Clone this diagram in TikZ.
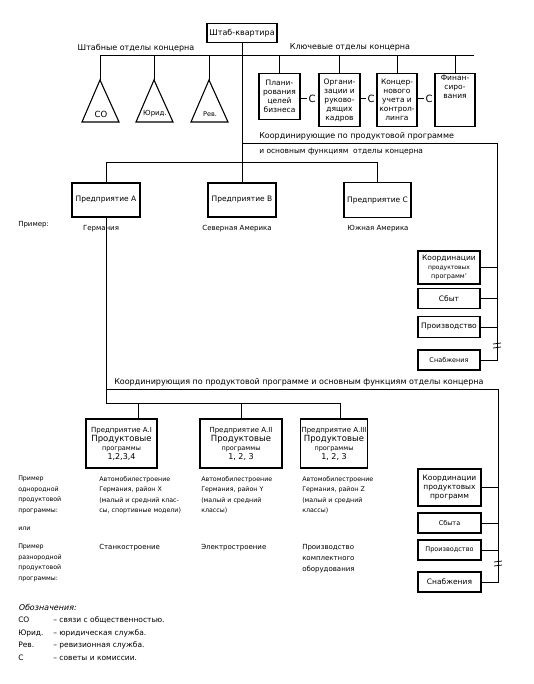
\documentclass[tikz,border=0pt]{standalone}
\usepackage{fontspec}
\setmainfont{DejaVu Sans}
\newfontfamily\slantfont{DejaVu Sans}[FakeSlant=0.2]
\usetikzlibrary{calc}
\tikzset{every picture/.style={line width=1pt}}
\tikzset{
  box/.style={draw, line width=1.1pt, inner sep=0.75pt, align=center, font=\fontsize{7.5}{9}\selectfont},
  kbox/.style={box, minimum width=41, anchor=north},
  rbox/.style={box, minimum width=62},
  lbl/.style={inner sep=0.75pt, align=left, font=\fontsize{7}{8.5}\selectfont},
  head/.style={inner sep=0.75pt, font=\fontsize{8}{9}\selectfont},
  note/.style={inner sep=0.75pt, align=left, anchor=north west, font=\fontsize{6.3}{10.5}\selectfont},
}

\begin{document}
\begin{tikzpicture}[x=1pt,y=1pt,yscale=-1,xscale=1]
    \useasboundingbox (0,0) rectangle (533,684);

    %Shape: Rectangle [id:hq]
    \node[box, font=\fontsize{8}{9}\selectfont, minimum width=70, minimum height=19] (hq) at (242,33) {Штаб-квартира};
    % Text Node
    \node[head] (staff) at (136,48) {Штабные отделы концерна};
    % Text Node
    \node[head] (key) at (350,47) {Ключевые отделы концерна};

    %Shape: Triangle
    \foreach \x/\t/\n/\s in {100/СО/co/8.5, 154/Юрид./jur/7, 209/Рев./rev/6.5}{
      \coordinate (\n) at (\x,80);
      \draw[line width=1.1pt] (\n) -- ++(-18,42) -- ++(37,0) -- cycle;
      \node[lbl, font=\fontsize{\s}{9}\selectfont] (\n-t) at (\x+1,114) {\t};
    }

    %Shape: Rectangle [id:kb]
    \node[kbox, minimum height=46] (kb1) at (279.5,73) {Плани-\\рования\\целей\\бизнеса};
    \node[kbox, minimum height=53] (kb2) at (339.5,73) {Органи-\\зации и\\руково-\\дящих\\кадров};
    \node[kbox, minimum height=53, minimum width=40] (kb3) at (397,73) {Концер-\\нового\\учета и\\контрол-\\линга};
    \node[kbox, minimum height=53, minimum width=40] (kb4) at (455,73) {};
    \node[lbl, align=center, anchor=north, font=\fontsize{7.5}{9}\selectfont] (kb4-t) at (455,74) {Финан-\\сиро-\\вания};

    % Text Node
    \node[lbl, font=\fontsize{10}{10}\selectfont] (c1) at (312,99) {С};
    \node[lbl, font=\fontsize{10}{10}\selectfont] (c2) at (371,99) {С};
    \node[lbl, font=\fontsize{10}{10}\selectfont] (c3) at (429,99) {С};
    \draw (c1.west -| kb1.east) -- (c1.west);
    \draw (c2.west -| kb2.east) -- (c2.west);
    \draw (c3.west -| kb3.east) -- (c3.west);

    %Straight Lines
    \coordinate (busR) at (474,56);
    \draw (co) -- (co |- busR) -- (busR);
    \foreach \n in {jur,rev}{ \draw (\n) -- (\n |- busR); }
    \foreach \n in {kb1,kb2,kb3,kb4}{ \draw (\n.north) -- (\n.north |- busR); }

    % Text Node
    \node[head, anchor=west] (coord1a) at (258,136) {Координирующие по продуктовой программе};
    % Text Node
    \node[head, anchor=west, font=\fontsize{7.5}{9}\selectfont] (coord1b) at (258,152) {и основным функциям~~отделы концерна};

    %Shape: Rectangle [id:ent]
    \node[box, minimum width=68, minimum height=34] (entA) at (106,200) {Предприятие А};
    \node[box, minimum width=68, minimum height=34] (entB) at (242,200) {Предприятие В};
    \node[box, minimum width=67, minimum height=35] (entC) at (377.5,200) {Предприятие С};

    % Text Node
    \node[lbl, anchor=west] (ex0) at (17,225) {Пример:};
    \node[lbl] (regA) at (101,229) {Германия};
    \node[lbl] (regB) at (237,229) {Северная Америка};
    \node[lbl] (regC) at (378,229) {Южная Америка};

    %Shape: Rectangle [id:rk]
    \node[rbox, minimum height=33] (rk1) at (449,267.5) {Координации\\{\fontsize{6}{8}\selectfont продуктовых}\\{\fontsize{6.5}{8}\selectfont программ'}};
    \node[rbox, minimum height=20] (rk2) at (449,298.5) {Сбыт};
    \node[rbox, minimum height=21] (rk3) at (449,327) {Производство};
    \node[rbox, minimum height=20, font=\fontsize{6.5}{8}\selectfont] (rk4) at (449,360) {Снабжения};

    %Straight Lines
    \coordinate (r1) at (497,144);
    \draw (hq.south) -- (hq.south |- entB.north);
    \draw (hq.south |- r1) -- (r1) -- (r1 |- rk4.east) -- (rk4.east);
    \foreach \n in {rk1,rk2,rk3}{ \draw (\n.east) -- (\n.east -| r1); }
    \draw[line width=0.75pt] (493,344) -- (501,343) (493,348) -- (501,347);
    \coordinate (b2) at (0,163);
    \draw (entA.north) |- (b2 -| entC.north) -- (entC.north);

    % Text Node
    \node[head, anchor=west] (coord2) at (113,382) {Координирующия по продуктовой программе и основным функциям отделы концерна};

    %Shape: Rectangle [id:sA]
    \node[box, minimum width=71, minimum height=49] (sA1) at (121.5,443.5) {\fontsize{7}{9}\selectfont Предприятие А.I\\\fontsize{8.5}{9}\selectfont Продуктовые\\\fontsize{6.5}{11}\selectfont программы\\\fontsize{8}{9}\selectfont 1,2,3,4};
    \node[box, minimum width=82, minimum height=49] (sA2) at (241,443.5) {\fontsize{7}{9}\selectfont Предприятие А.II\\\fontsize{8.5}{9}\selectfont Продуктовые\\\fontsize{6.5}{11}\selectfont программы\\\fontsize{8}{9}\selectfont 1, 2, 3};
    \node[box, minimum width=66, minimum height=49] (sA3) at (334,443.5) {\fontsize{7}{9}\selectfont Предприятие А.III\\\fontsize{8.5}{9}\selectfont Продуктовые\\\fontsize{6.5}{11}\selectfont программы\\\fontsize{8}{9}\selectfont 1, 2, 3};

    %Shape: Rectangle [id:sk]
    \node[rbox, minimum width=63, minimum height=37] (sk1) at (449.5,487.5) {Координации\\продуктовых\\программ};
    \node[rbox, minimum width=63, minimum height=20, font=\fontsize{6.5}{8}\selectfont] (sk2) at (449.5,523) {Сбыта};
    \node[rbox, minimum width=63, minimum height=20, font=\fontsize{6.5}{8}\selectfont] (sk3) at (449.5,550) {Производство};
    \node[rbox, minimum width=63, minimum height=20] (sk4) at (449.5,582) {Снабжения};

    %Straight Lines
    \coordinate (r2) at (498,389);
    \coordinate (b3) at (0,403);
    \coordinate (j1) at ($(sA1.north)+(16.5,0)$);
    \coordinate (j3) at ($(sA3.north)+(6,0)$);
    \draw (entA.south) |- (j3 |- b3) -- (j3);
    \draw (j1 |- b3) -- (j1);
    \draw (sA2.north |- b3) -- (sA2.north);
    \draw (entA.south |- r2) -- (r2) -- (r2 |- sk4.east) -- (sk4.east);
    \foreach \n in {sk1,sk2,sk3}{ \draw (\n.east) -- (\n.east -| r2); }
    \draw[line width=0.75pt] (494,562) -- (502,561) (494,566) -- (502,565);

    % Text Node
    \node[note] (ex1) at (17,475) {Пример\\однородной\\продуктовой\\программы:};
    \node[note] (ex1a) at (98,475) {Автомобилестроение\\Германия, район X\\(малый и средний клас-\\сы, спортивные модели)};
    \node[note] (ex1b) at (200,475) {Автомобилестроение\\Германия, район Y\\(малый и средний\\классы)};
    \node[note] (ex1c) at (301,475) {Автомобилестроение\\Германия, район Z\\(малый и средний\\классы)};
    % Text Node
    \node[note] (or) at (17,526) {или};
    % Text Node
    \node[note] (ex2) at (17,543) {Пример\\разнородной\\продуктовой\\программы:};
    \node[note, font=\fontsize{7}{11}\selectfont] (ex2a) at (98,543) {Станкостроение};
    \node[note, font=\fontsize{7}{11}\selectfont] (ex2b) at (200,543) {Электростроение};
    \node[note, font=\fontsize{7}{11}\selectfont] (ex2c) at (301,543) {Производство\\комплектного\\оборудования};

    % Text Node
    \node[lbl, anchor=west, font=\fontsize{8}{9}\slantfont] (leg) at (17,607) {Обозначения:};
    \foreach \y/\k/\t in {620/СО/связи с общественностью., 633/Юрид./юридическая служба., 645/Рев./ревизионная служба., 658/С/советы и комиссии.}{
      \node[lbl, anchor=west, font=\fontsize{7.5}{9}\selectfont] (k\y) at (17,\y) {\k};
      \node[lbl, anchor=west, font=\fontsize{7.5}{9}\selectfont] (t\y) at (52,\y) {– \t};
    }

\end{tikzpicture}
\end{document}
